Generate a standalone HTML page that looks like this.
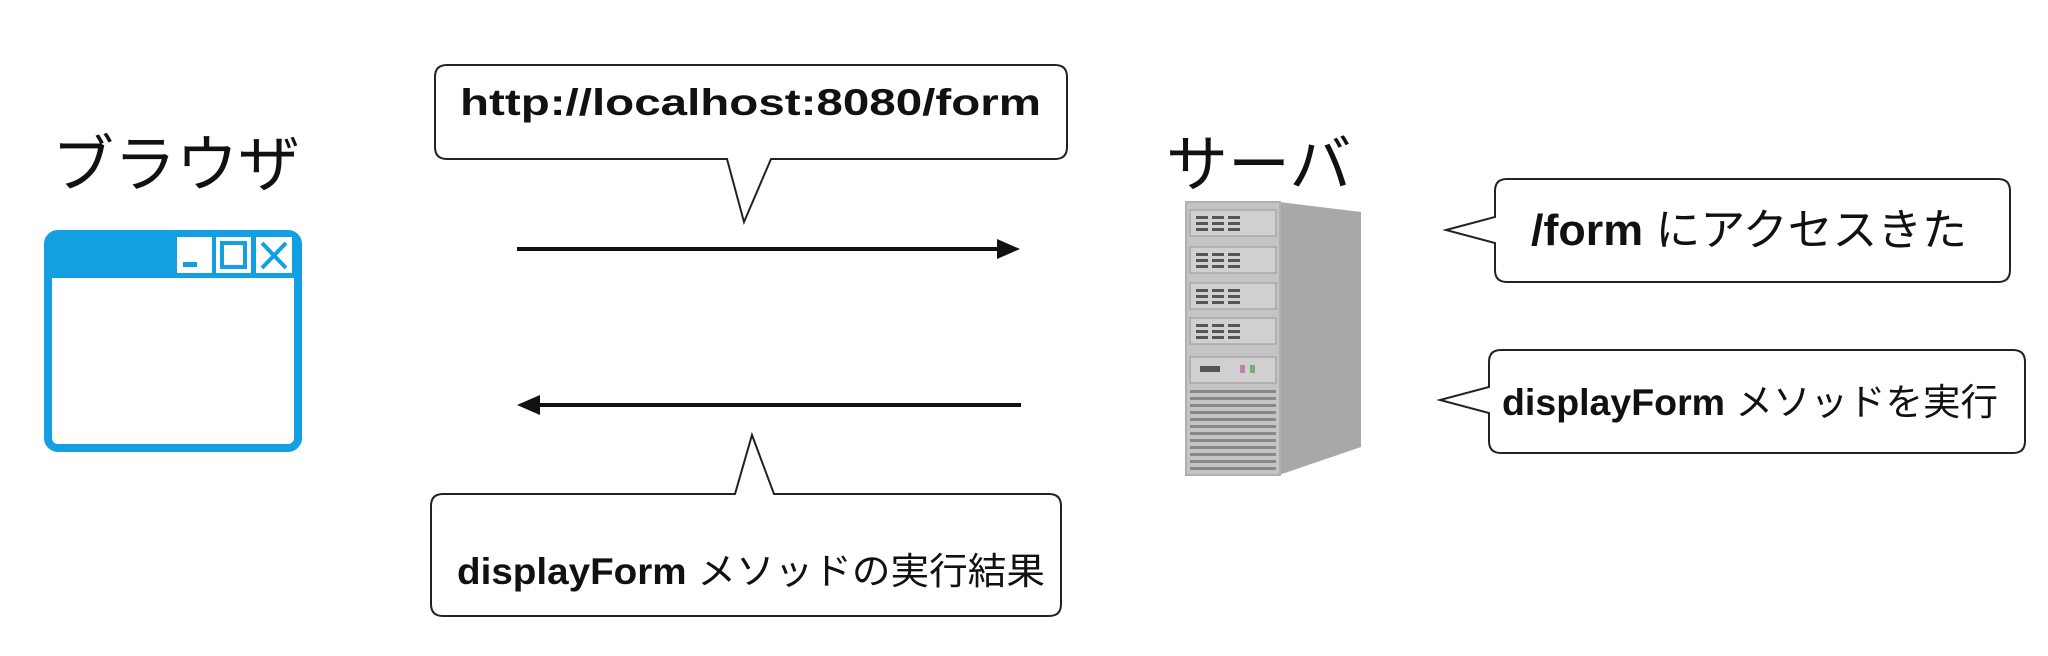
<!DOCTYPE html>
<html><head><meta charset="utf-8"><style>
html,body{margin:0;padding:0;background:#fff;}
body{width:2048px;height:656px;overflow:hidden;position:relative;}
svg{position:absolute;left:0;top:0;}
.t{font-family:"Liberation Sans","Noto Sans CJK JP",sans-serif;}
</style></head><body>
<svg width="2048" height="656" viewBox="0 0 2048 656">
<text class="t" x="52" y="186" font-size="62" fill="#111">ブラウザ</text>
<rect x="48" y="234" width="250" height="214" rx="10" fill="#fff" stroke="#12a0e3" stroke-width="8"/>
<rect x="48" y="234" width="250" height="44" fill="#12a0e3"/>
<rect x="177" y="237" width="35" height="36" fill="#fff"/>
<rect x="183" y="262" width="14" height="5" fill="#12a0e3"/>
<rect x="216" y="237" width="35" height="36" fill="#fff"/>
<rect x="222" y="243" width="23" height="24" fill="none" stroke="#12a0e3" stroke-width="4"/>
<rect x="256" y="237" width="36" height="36" fill="#fff"/>
<path d="M262 243 L286 268 M286 243 L262 268" stroke="#12a0e3" stroke-width="4"/>
<path d="M447 65 H1055 Q1067 65 1067 77 V147 Q1067 159 1055 159 H771 L744 222 L727 159 H447 Q435 159 435 147 V77 Q435 65 447 65 Z" fill="#fff" stroke="#222" stroke-width="2"/>
<text class="t" x="460" y="115" font-size="37" font-weight="bold" fill="#111" textLength="581" lengthAdjust="spacingAndGlyphs">http://localhost:8080/form</text>
<line x1="517" y1="249" x2="1000" y2="249" stroke="#111" stroke-width="4"/>
<polygon points="1020,249 997,239 997,259" fill="#111"/>
<line x1="538" y1="405" x2="1021" y2="405" stroke="#111" stroke-width="4"/>
<polygon points="517,405 540,395 540,415" fill="#111"/>
<path d="M443 494 H735 L752 435 L774 494 H1049 Q1061 494 1061 506 V604 Q1061 616 1049 616 H443 Q431 616 431 604 V506 Q431 494 443 494 Z" fill="#fff" stroke="#222" stroke-width="2"/>
<text class="t" x="457" y="584" font-size="37" fill="#111" textLength="588" lengthAdjust="spacingAndGlyphs"><tspan font-weight="bold">displayForm</tspan> メソッドの実行結果</text>
<text class="t" x="1166" y="186" font-size="62" fill="#111">サーバ</text>
<polygon points="1279,202 1361,212 1361,447 1279,475" fill="#a8a8a8"/>
<rect x="1186" y="202" width="94" height="273" fill="#c4c4c4"/>
<rect x="1186" y="202" width="94" height="273" fill="none" stroke="#b0b0b0" stroke-width="2"/>
<g fill="#d0d0d0" stroke="#999" stroke-width="1">
<rect x="1190" y="210" width="86" height="26"/>
<rect x="1190" y="247" width="86" height="26"/>
<rect x="1190" y="283" width="86" height="26"/>
<rect x="1190" y="318" width="86" height="26"/>
<rect x="1190" y="357" width="86" height="26"/>
</g>
<g fill="#555">
<rect x="1196" y="216" width="12" height="3"/><rect x="1212" y="216" width="12" height="3"/><rect x="1228" y="216" width="12" height="3"/>
<rect x="1196" y="222" width="12" height="3"/><rect x="1212" y="222" width="12" height="3"/><rect x="1228" y="222" width="12" height="3"/>
<rect x="1196" y="228" width="12" height="3"/><rect x="1212" y="228" width="12" height="3"/><rect x="1228" y="228" width="12" height="3"/>
<rect x="1196" y="253" width="12" height="3"/><rect x="1212" y="253" width="12" height="3"/><rect x="1228" y="253" width="12" height="3"/>
<rect x="1196" y="259" width="12" height="3"/><rect x="1212" y="259" width="12" height="3"/><rect x="1228" y="259" width="12" height="3"/>
<rect x="1196" y="265" width="12" height="3"/><rect x="1212" y="265" width="12" height="3"/><rect x="1228" y="265" width="12" height="3"/>
<rect x="1196" y="289" width="12" height="3"/><rect x="1212" y="289" width="12" height="3"/><rect x="1228" y="289" width="12" height="3"/>
<rect x="1196" y="295" width="12" height="3"/><rect x="1212" y="295" width="12" height="3"/><rect x="1228" y="295" width="12" height="3"/>
<rect x="1196" y="301" width="12" height="3"/><rect x="1212" y="301" width="12" height="3"/><rect x="1228" y="301" width="12" height="3"/>
<rect x="1196" y="324" width="12" height="3"/><rect x="1212" y="324" width="12" height="3"/><rect x="1228" y="324" width="12" height="3"/>
<rect x="1196" y="330" width="12" height="3"/><rect x="1212" y="330" width="12" height="3"/><rect x="1228" y="330" width="12" height="3"/>
<rect x="1196" y="336" width="12" height="3"/><rect x="1212" y="336" width="12" height="3"/><rect x="1228" y="336" width="12" height="3"/>
<rect x="1200" y="366" width="20" height="6"/>
</g>
<rect x="1240" y="365" width="5" height="8" fill="#c080b0"/>
<rect x="1250" y="365" width="5" height="8" fill="#70b070"/>
<g fill="#888">
<rect x="1190" y="390" width="86" height="3"/><rect x="1190" y="397" width="86" height="3"/><rect x="1190" y="404" width="86" height="3"/>
<rect x="1190" y="411" width="86" height="3"/><rect x="1190" y="418" width="86" height="3"/><rect x="1190" y="425" width="86" height="3"/>
<rect x="1190" y="432" width="86" height="3"/><rect x="1190" y="439" width="86" height="3"/><rect x="1190" y="446" width="86" height="3"/>
<rect x="1190" y="453" width="86" height="3"/><rect x="1190" y="460" width="86" height="3"/><rect x="1190" y="467" width="86" height="3"/>
</g>
<path d="M1507 179 H1998 Q2010 179 2010 191 V270 Q2010 282 1998 282 H1507 Q1495 282 1495 270 V243 L1446 230 L1495 217 V191 Q1495 179 1507 179 Z" fill="#fff" stroke="#222" stroke-width="2"/>
<text class="t" x="1531" y="245" font-size="44" fill="#111" textLength="436" lengthAdjust="spacingAndGlyphs"><tspan font-weight="bold">/form</tspan> にアクセスきた</text>
<path d="M1501 350 H2013 Q2025 350 2025 362 V441 Q2025 453 2013 453 H1501 Q1489 453 1489 441 V413 L1440 400 L1489 387 V362 Q1489 350 1501 350 Z" fill="#fff" stroke="#222" stroke-width="2"/>
<text class="t" x="1502" y="415" font-size="37" fill="#111" textLength="496" lengthAdjust="spacingAndGlyphs"><tspan font-weight="bold">displayForm</tspan> メソッドを実行</text>
</svg>
</body></html>
